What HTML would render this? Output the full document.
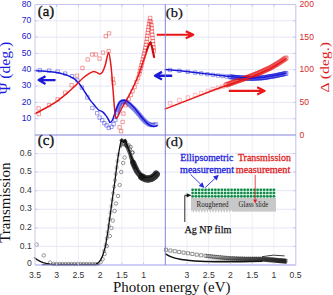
<!DOCTYPE html>
<html><head><meta charset="utf-8"><style>
html,body{margin:0;padding:0;background:#fff;width:333px;height:295px;overflow:hidden}
svg{display:block}
</style></head><body>
<svg width="333" height="295" viewBox="0 0 333 295">
<rect width="333" height="295" fill="#fff"/>
<path d="M56.7 4.5V265.0M187.0 4.5V265.0M78.4 4.5V265.0M208.7 4.5V265.0M100.2 4.5V265.0M230.5 4.5V265.0M121.9 4.5V265.0M252.2 4.5V265.0M143.6 4.5V265.0M273.9 4.5V265.0" stroke="#ededfa" stroke-width="1" fill="none"/>
<path d="M35.0 118.7H295.8M35.0 102.4H295.8M35.0 86.1H295.8M35.0 69.8H295.8M35.0 53.4H295.8M35.0 37.1H295.8M35.0 20.8H295.8M35.0 246.4H295.8M35.0 227.9H295.8M35.0 209.3H295.8M35.0 190.7H295.8M35.0 172.1H295.8M35.0 153.6H295.8" stroke="#e6e6f8" stroke-width="1" fill="none"/>
<g>
<path d="M35.0 70.6 C36.7 70.7 41.7 70.9 45.0 71.2 C48.3 71.5 52.2 71.9 55.0 72.3 C57.8 72.7 59.8 73.2 62.0 73.8 C64.2 74.3 66.2 74.9 68.0 75.6 C69.8 76.3 71.5 77.1 73.0 78.0 C74.5 78.9 75.7 79.9 77.0 81.2 C78.3 82.5 79.6 84.0 81.0 86.0 C82.4 88.0 83.9 90.6 85.5 93.0 C87.1 95.4 88.8 98.4 90.5 100.6 C92.2 102.8 94.1 104.8 95.4 106.4 C96.8 108.0 97.4 109.1 98.6 110.0 C99.8 110.9 101.4 110.9 102.6 111.8 C103.8 112.7 105.0 114.2 106.0 115.6 C107.0 116.9 107.9 118.7 108.6 119.9 C109.3 121.1 109.6 122.7 110.3 122.6 C111.0 122.5 111.8 121.5 112.8 119.2 C113.8 116.9 115.4 111.4 116.6 108.5 C117.8 105.6 118.7 103.1 120.0 101.8 C121.3 100.5 123.1 100.5 124.6 100.6 C126.1 100.7 127.4 101.5 129.0 102.6 C130.6 103.7 132.3 105.5 134.0 107.4 C135.7 109.3 137.4 111.8 139.0 113.8 C140.6 115.8 142.1 117.8 143.5 119.4 C144.9 121.0 146.2 122.5 147.5 123.6 C148.8 124.7 149.8 125.3 151.0 125.8 C152.2 126.3 153.5 126.4 154.5 126.4 C155.5 126.4 156.6 125.7 157.0 125.6" stroke="#1a1ad8" stroke-width="1.5" fill="none" stroke-linejoin="round" stroke-linecap="round" />
<path d="M35.0 113.6 C36.2 113.0 39.5 111.4 42.0 110.0 C44.5 108.6 47.7 106.9 50.3 105.4 C52.9 103.9 54.8 102.8 57.6 100.8 C60.4 98.8 63.9 95.8 66.9 93.3 C69.9 90.8 72.7 88.1 75.4 85.6 C78.1 83.0 80.7 80.0 83.0 78.0 C85.3 76.0 87.2 74.7 89.0 73.6 C90.8 72.5 92.2 71.6 93.5 71.4 C94.8 71.2 95.9 72.2 97.0 72.6 C98.1 73.0 99.1 74.1 100.0 74.0 C100.9 73.9 101.7 73.3 102.6 71.8 C103.5 70.3 104.3 68.2 105.3 65.0 C106.3 61.8 107.6 52.4 108.6 52.6 C109.5 52.8 110.2 59.4 111.0 66.0 C111.8 72.6 112.5 83.6 113.2 92.0 C113.9 100.4 114.6 112.3 115.4 116.4 C116.2 120.5 116.7 117.9 117.8 116.4 C118.9 114.9 120.5 110.3 122.0 107.6 C123.5 104.9 125.1 102.4 126.5 100.0 C127.9 97.6 129.0 95.6 130.3 93.0 C131.6 90.4 133.2 87.2 134.5 84.5 C135.8 81.8 137.0 78.9 138.0 76.5 C139.0 74.1 139.5 72.4 140.3 70.0 C141.1 67.6 142.1 64.5 143.0 62.0 C143.9 59.5 144.7 57.4 145.5 55.0 C146.3 52.6 147.2 49.6 148.0 47.5 C148.8 45.4 149.7 42.2 150.4 42.3 C151.2 42.4 151.8 45.5 152.5 48.0 C153.2 50.5 154.1 55.8 154.4 57.4" stroke="#e81818" stroke-width="1.5" fill="none" stroke-linejoin="round" stroke-linecap="round" />
</g>
<path d="M38.1 68.6h3.4v3.4h-3.4zM47.4 68.9h3.4v3.4h-3.4zM55.9 69.9h3.4v3.4h-3.4zM63.5 71.9h3.4v3.4h-3.4zM70.3 74.5h3.4v3.4h-3.4zM75.7 78.7h3.4v3.4h-3.4zM80.2 85.9h3.4v3.4h-3.4zM85.7 95.7h3.4v3.4h-3.4zM90.7 106.3h3.4v3.4h-3.4zM95.5 111.5h3.4v3.4h-3.4zM97.9 115.9h3.4v3.4h-3.4zM100.5 118.5h3.4v3.4h-3.4zM102.7 121.5h3.4v3.4h-3.4zM104.9 123.7h3.4v3.4h-3.4zM107.1 126.3h3.4v3.4h-3.4zM109.7 125.1h3.4v3.4h-3.4zM111.9 122.5h3.4v3.4h-3.4zM113.7 118.3h3.4v3.4h-3.4z" stroke="#1a1ad8" stroke-width="0.7" fill="none" opacity="0.6"/>
<path d="M114.8 111.3h3.4v3.4h-3.4zM115.1 110.4h3.4v3.4h-3.4zM115.4 109.6h3.4v3.4h-3.4zM115.7 108.7h3.4v3.4h-3.4zM115.9 107.9h3.4v3.4h-3.4zM116.2 107.0h3.4v3.4h-3.4zM116.5 106.2h3.4v3.4h-3.4zM116.8 105.3h3.4v3.4h-3.4zM117.2 104.5h3.4v3.4h-3.4zM117.6 103.7h3.4v3.4h-3.4zM118.0 102.9h3.4v3.4h-3.4zM118.4 102.1h3.4v3.4h-3.4zM118.8 101.3h3.4v3.4h-3.4zM119.5 100.8h3.4v3.4h-3.4zM120.3 100.2h3.4v3.4h-3.4zM121.0 99.7h3.4v3.4h-3.4zM121.8 99.6h3.4v3.4h-3.4zM122.7 99.7h3.4v3.4h-3.4zM123.6 99.9h3.4v3.4h-3.4zM124.4 100.3h3.4v3.4h-3.4zM125.1 100.8h3.4v3.4h-3.4zM125.8 101.4h3.4v3.4h-3.4zM126.5 101.9h3.4v3.4h-3.4zM127.2 102.5h3.4v3.4h-3.4zM127.9 103.1h3.4v3.4h-3.4zM128.6 103.7h3.4v3.4h-3.4zM129.3 104.3h3.4v3.4h-3.4zM129.9 104.9h3.4v3.4h-3.4zM130.6 105.5h3.4v3.4h-3.4zM131.2 106.1h3.4v3.4h-3.4zM131.9 106.7h3.4v3.4h-3.4zM132.5 107.4h3.4v3.4h-3.4zM133.2 108.0h3.4v3.4h-3.4zM133.8 108.7h3.4v3.4h-3.4zM134.4 109.3h3.4v3.4h-3.4zM135.0 110.0h3.4v3.4h-3.4zM135.6 110.7h3.4v3.4h-3.4zM136.2 111.3h3.4v3.4h-3.4zM136.7 112.0h3.4v3.4h-3.4zM137.3 112.7h3.4v3.4h-3.4zM137.9 113.4h3.4v3.4h-3.4zM138.4 114.1h3.4v3.4h-3.4zM139.0 114.8h3.4v3.4h-3.4zM139.6 115.5h3.4v3.4h-3.4zM140.1 116.2h3.4v3.4h-3.4zM140.7 116.9h3.4v3.4h-3.4zM141.3 117.6h3.4v3.4h-3.4zM141.9 118.2h3.4v3.4h-3.4zM142.6 118.9h3.4v3.4h-3.4zM143.2 119.6h3.4v3.4h-3.4zM143.8 120.1h3.4v3.4h-3.4zM144.6 120.7h3.4v3.4h-3.4zM145.3 121.3h3.4v3.4h-3.4zM146.0 121.8h3.4v3.4h-3.4zM146.7 122.3h3.4v3.4h-3.4zM147.6 122.6h3.4v3.4h-3.4zM148.4 122.9h3.4v3.4h-3.4zM149.2 123.3h3.4v3.4h-3.4zM150.1 123.3h3.4v3.4h-3.4zM151.0 123.2h3.4v3.4h-3.4zM151.9 123.2h3.4v3.4h-3.4zM152.8 123.1h3.4v3.4h-3.4zM153.7 122.9h3.4v3.4h-3.4zM154.5 122.6h3.4v3.4h-3.4z" stroke="#1a1ad8" stroke-width="0.6" fill="none" opacity="0.42"/>
<path d="M37.1 112.3h3.4v3.4h-3.4zM36.9 106.7h3.4v3.4h-3.4zM47.4 103.5h3.4v3.4h-3.4zM55.9 97.7h3.4v3.4h-3.4zM63.5 90.9h3.4v3.4h-3.4zM69.9 83.5h3.4v3.4h-3.4zM75.2 74.0h3.4v3.4h-3.4zM80.8 66.2h3.4v3.4h-3.4zM86.0 57.8h3.4v3.4h-3.4zM90.5 52.8h3.4v3.4h-3.4zM94.2 52.8h3.4v3.4h-3.4zM97.9 56.9h3.4v3.4h-3.4zM101.3 50.9h3.4v3.4h-3.4zM104.1 34.5h3.4v3.4h-3.4zM107.4 31.7h3.4v3.4h-3.4zM106.9 49.4h3.4v3.4h-3.4zM111.2 77.3h3.4v3.4h-3.4zM111.9 81.3h3.4v3.4h-3.4zM117.9 125.6h3.4v3.4h-3.4zM119.4 129.5h3.4v3.4h-3.4zM120.9 120.3h3.4v3.4h-3.4zM121.7 111.9h3.4v3.4h-3.4zM124.0 103.5h3.4v3.4h-3.4zM127.0 97.4h3.4v3.4h-3.4zM129.1 93.3h3.4v3.4h-3.4zM130.9 89.3h3.4v3.4h-3.4zM132.9 85.3h3.4v3.4h-3.4zM134.7 80.3h3.4v3.4h-3.4zM136.3 76.3h3.4v3.4h-3.4z" stroke="#e81818" stroke-width="0.7" fill="none" opacity="0.6"/>
<path d="M137.6 72.2h3.5v3.5h-3.5zM138.3 69.3h3.5v3.5h-3.5zM139.0 66.4h3.5v3.5h-3.5zM139.7 63.5h3.5v3.5h-3.5zM140.4 60.6h3.5v3.5h-3.5zM141.1 57.7h3.5v3.5h-3.5zM141.8 54.8h3.5v3.5h-3.5zM142.5 51.8h3.5v3.5h-3.5zM143.1 48.9h3.5v3.5h-3.5zM143.7 46.0h3.5v3.5h-3.5zM144.3 43.0h3.5v3.5h-3.5zM144.8 40.1h3.5v3.5h-3.5zM145.2 37.1h3.5v3.5h-3.5zM145.6 34.1h3.5v3.5h-3.5zM146.0 31.2h3.5v3.5h-3.5zM146.5 28.2h3.5v3.5h-3.5zM146.9 25.2h3.5v3.5h-3.5zM147.4 22.3h3.5v3.5h-3.5zM147.9 19.3h3.5v3.5h-3.5zM148.4 16.3h3.5v3.5h-3.5zM149.2 20.2h3.5v3.5h-3.5zM149.6 23.4h3.5v3.5h-3.5zM149.9 26.6h3.5v3.5h-3.5zM150.2 29.8h3.5v3.5h-3.5zM150.5 33.0h3.5v3.5h-3.5zM150.8 36.2h3.5v3.5h-3.5zM151.1 39.4h3.5v3.5h-3.5zM151.4 42.5h3.5v3.5h-3.5zM151.7 45.7h3.5v3.5h-3.5zM152.0 48.9h3.5v3.5h-3.5z" stroke="#e81818" stroke-width="0.75" fill="none" opacity="0.6"/>
<path d="M146.5 51.0 L148.5 45.5 L150.4 42.3 L152.3 48.5 L153.8 56.8" stroke="#c80c0c" stroke-width="1.8" fill="none" stroke-linejoin="round" stroke-linecap="round" />
<path d="M55.5 80.1L38.7 80.1M45.5 76.2L38.7 80.1L45.5 84.0" stroke="#1a1ad8" stroke-width="2.3" fill="none" stroke-linecap="butt" stroke-linejoin="round"/>
<path d="M172.2 75.7L155.0 75.7M162.0 71.9L155.0 75.7L162.0 79.5" stroke="#1a1ad8" stroke-width="2.4" fill="none" stroke-linecap="butt" stroke-linejoin="round"/>
<path d="M156.8 34.7L193.3 34.7M185.8 38.2L193.3 34.7L185.8 31.2" stroke="#e81818" stroke-width="2.1" fill="none" stroke-linecap="butt" stroke-linejoin="round"/>
<path d="M228.8 90.9L264.7 90.9M257.2 94.5L264.7 90.9L257.2 87.3" stroke="#e81818" stroke-width="2.1" fill="none" stroke-linecap="butt" stroke-linejoin="round"/>
<path d="M168.3 68.3h3.4v3.4h-3.4zM177.7 69.1h3.4v3.4h-3.4zM186.1 70.1h3.4v3.4h-3.4zM193.4 70.9h3.4v3.4h-3.4zM199.5 71.7h3.4v3.4h-3.4zM205.7 72.5h3.4v3.4h-3.4zM211.3 73.2h3.4v3.4h-3.4zM216.3 73.8h3.4v3.4h-3.4zM220.8 74.3h3.4v3.4h-3.4zM224.8 74.7h3.4v3.4h-3.4z" stroke="#1a1ad8" stroke-width="0.7" fill="none" opacity="0.6"/>
<path d="M228.1 74.9h3.8v3.8h-3.8zM229.1 75.0h3.8v3.8h-3.8zM230.1 75.1h3.8v3.8h-3.8zM231.1 75.2h3.8v3.8h-3.8zM232.1 75.3h3.8v3.8h-3.8zM233.1 75.4h3.8v3.8h-3.8zM234.1 75.5h3.8v3.8h-3.8zM235.1 75.6h3.8v3.8h-3.8zM236.1 75.7h3.8v3.8h-3.8zM237.1 75.8h3.8v3.8h-3.8zM238.1 75.9h3.8v3.8h-3.8zM239.1 75.9h3.8v3.8h-3.8zM240.1 76.0h3.8v3.8h-3.8zM241.1 76.0h3.8v3.8h-3.8zM242.1 76.1h3.8v3.8h-3.8zM243.1 76.1h3.8v3.8h-3.8zM244.1 76.2h3.8v3.8h-3.8zM245.1 76.2h3.8v3.8h-3.8zM246.1 76.3h3.8v3.8h-3.8zM247.1 76.3h3.8v3.8h-3.8zM248.1 76.4h3.8v3.8h-3.8zM249.1 76.4h3.8v3.8h-3.8zM250.1 76.5h3.8v3.8h-3.8zM251.1 76.4h3.8v3.8h-3.8zM252.1 76.4h3.8v3.8h-3.8zM253.1 76.3h3.8v3.8h-3.8zM254.1 76.3h3.8v3.8h-3.8zM255.1 76.2h3.8v3.8h-3.8zM256.1 76.2h3.8v3.8h-3.8zM257.1 76.1h3.8v3.8h-3.8zM258.1 76.1h3.8v3.8h-3.8zM259.1 76.0h3.8v3.8h-3.8zM260.1 76.0h3.8v3.8h-3.8zM261.1 75.9h3.8v3.8h-3.8zM262.1 75.7h3.8v3.8h-3.8zM263.1 75.6h3.8v3.8h-3.8zM264.1 75.4h3.8v3.8h-3.8zM265.1 75.2h3.8v3.8h-3.8zM266.1 75.1h3.8v3.8h-3.8zM267.1 74.9h3.8v3.8h-3.8zM268.1 74.7h3.8v3.8h-3.8zM269.1 74.6h3.8v3.8h-3.8zM270.1 74.4h3.8v3.8h-3.8zM271.1 74.2h3.8v3.8h-3.8zM272.1 74.1h3.8v3.8h-3.8zM273.1 73.9h3.8v3.8h-3.8zM274.1 73.7h3.8v3.8h-3.8zM275.1 73.5h3.8v3.8h-3.8zM276.1 73.2h3.8v3.8h-3.8zM277.1 73.0h3.8v3.8h-3.8zM278.1 72.8h3.8v3.8h-3.8zM279.1 72.6h3.8v3.8h-3.8zM280.1 72.4h3.8v3.8h-3.8zM281.1 72.2h3.8v3.8h-3.8zM282.1 71.9h3.8v3.8h-3.8zM283.1 71.7h3.8v3.8h-3.8zM284.1 71.5h3.8v3.8h-3.8z" stroke="#1a1ad8" stroke-width="0.8" fill="none" opacity="0.55"/>
<path d="M168.3 101.4h3.6v3.6h-3.6zM177.6 98.4h3.6v3.6h-3.6zM186.0 95.8h3.6v3.6h-3.6zM193.3 93.4h3.6v3.6h-3.6zM199.4 91.4h3.6v3.6h-3.6zM206.0 89.2h3.6v3.6h-3.6zM211.2 87.5h3.6v3.6h-3.6zM216.2 86.1h3.6v3.6h-3.6zM220.7 84.8h3.6v3.6h-3.6z" stroke="#e81818" stroke-width="0.7" fill="none" opacity="0.4"/>
<path d="M224.0 83.0h4.0v4.0h-4.0zM225.0 82.7h4.0v4.0h-4.0zM226.0 82.3h4.0v4.0h-4.0zM227.0 82.0h4.0v4.0h-4.0zM228.0 81.6h4.0v4.0h-4.0zM229.0 81.2h4.0v4.0h-4.0zM230.0 80.9h4.0v4.0h-4.0zM231.0 80.5h4.0v4.0h-4.0zM232.0 80.2h4.0v4.0h-4.0zM233.0 79.8h4.0v4.0h-4.0zM234.0 79.4h4.0v4.0h-4.0zM235.0 79.1h4.0v4.0h-4.0zM236.0 78.7h4.0v4.0h-4.0zM237.0 78.4h4.0v4.0h-4.0zM238.0 78.0h4.0v4.0h-4.0zM239.0 77.7h4.0v4.0h-4.0zM240.0 77.3h4.0v4.0h-4.0zM241.0 77.0h4.0v4.0h-4.0zM242.0 76.6h4.0v4.0h-4.0zM243.0 76.3h4.0v4.0h-4.0zM244.0 76.0h4.0v4.0h-4.0zM245.0 75.6h4.0v4.0h-4.0zM246.0 75.3h4.0v4.0h-4.0zM247.0 74.9h4.0v4.0h-4.0zM248.0 74.6h4.0v4.0h-4.0zM249.0 74.2h4.0v4.0h-4.0zM250.0 73.8h4.0v4.0h-4.0zM251.0 73.4h4.0v4.0h-4.0zM252.0 73.0h4.0v4.0h-4.0zM253.0 72.6h4.0v4.0h-4.0zM254.0 72.2h4.0v4.0h-4.0zM255.0 71.8h4.0v4.0h-4.0zM256.0 71.4h4.0v4.0h-4.0zM257.0 71.0h4.0v4.0h-4.0zM258.0 70.6h4.0v4.0h-4.0zM259.0 70.1h4.0v4.0h-4.0zM260.0 69.7h4.0v4.0h-4.0zM261.0 69.2h4.0v4.0h-4.0zM262.0 68.8h4.0v4.0h-4.0zM263.0 68.3h4.0v4.0h-4.0zM264.0 67.8h4.0v4.0h-4.0zM265.0 67.4h4.0v4.0h-4.0zM266.0 66.9h4.0v4.0h-4.0zM267.0 66.5h4.0v4.0h-4.0zM268.0 66.0h4.0v4.0h-4.0zM269.0 65.4h4.0v4.0h-4.0zM270.0 64.9h4.0v4.0h-4.0zM271.0 64.3h4.0v4.0h-4.0zM272.0 63.7h4.0v4.0h-4.0zM273.0 63.1h4.0v4.0h-4.0zM274.0 62.6h4.0v4.0h-4.0zM275.0 62.0h4.0v4.0h-4.0zM276.0 61.4h4.0v4.0h-4.0zM277.0 60.7h4.0v4.0h-4.0zM278.0 60.1h4.0v4.0h-4.0zM279.0 59.4h4.0v4.0h-4.0zM280.0 58.7h4.0v4.0h-4.0zM281.0 58.0h4.0v4.0h-4.0zM282.0 57.4h4.0v4.0h-4.0zM283.0 56.7h4.0v4.0h-4.0zM284.0 56.0h4.0v4.0h-4.0z" stroke="#e81818" stroke-width="0.85" fill="none" opacity="0.55"/>
<path d="M165.3 69.4 L180.0 70.7 L195.0 72.4 L210.0 74.3 L225.0 76.1 L240.0 77.6 L252.0 78.2 L263.0 77.6 L275.0 75.6 L286.0 73.2" stroke="#1a1ad8" stroke-width="1.5" fill="none" stroke-linejoin="round" stroke-linecap="round" />
<path d="M165.3 108.9 L190.0 99.4 L213.0 90.2 L230.0 84.2 L240.0 80.6 L250.0 77.2 L260.0 73.2 L270.0 68.6 L278.0 64.0 L286.0 58.6" stroke="#e81818" stroke-width="1.5" fill="none" stroke-linejoin="round" stroke-linecap="round" />
<g stroke="#555" stroke-width="0.75" fill="none" opacity="0.8"><circle cx="36.6" cy="244.6" r="1.75"/><circle cx="43.8" cy="255.4" r="1.75"/><circle cx="50.1" cy="262.6" r="1.75"/><circle cx="53.5" cy="264.0" r="1.75"/><circle cx="56.5" cy="264.0" r="1.75"/><circle cx="59.5" cy="264.0" r="1.75"/><circle cx="62.5" cy="264.0" r="1.75"/><circle cx="65.5" cy="264.0" r="1.75"/><circle cx="68.5" cy="264.0" r="1.75"/><circle cx="71.5" cy="264.0" r="1.75"/><circle cx="74.5" cy="264.0" r="1.75"/><circle cx="77.5" cy="264.0" r="1.75"/><circle cx="80.5" cy="264.0" r="1.75"/><circle cx="83.5" cy="264.0" r="1.75"/><circle cx="86.5" cy="264.0" r="1.75"/><circle cx="89.5" cy="264.0" r="1.75"/><circle cx="92.5" cy="264.0" r="1.75"/><circle cx="95.5" cy="264.0" r="1.75"/><circle cx="100.6" cy="262.2" r="1.75"/><circle cx="102.6" cy="259.2" r="1.75"/><circle cx="104.6" cy="254.0" r="1.75"/><circle cx="106.8" cy="246.0" r="1.75"/><circle cx="109.8" cy="236.0" r="1.75"/><circle cx="111.4" cy="228.0" r="1.75"/><circle cx="112.8" cy="220.5" r="1.75"/><circle cx="114.6" cy="211.0" r="1.75"/><circle cx="116.0" cy="203.5" r="1.75"/><circle cx="118.0" cy="196.0" r="1.75"/><circle cx="119.6" cy="185.0" r="1.75"/><circle cx="121.2" cy="172.0" r="1.75"/><circle cx="123.2" cy="163.0" r="1.75"/><circle cx="124.6" cy="157.5" r="1.75"/><circle cx="127.6" cy="146.0" r="1.75"/><circle cx="129.8" cy="149.0" r="1.75"/><circle cx="132.4" cy="152.5" r="1.75"/></g>
<path d="M124.5 141.5 L127.0 146.5 L129.0 151.5 L131.0 157.0 L133.0 162.5 L135.0 167.2" stroke="#222" stroke-width="3.6" fill="none" stroke-linejoin="round" stroke-linecap="round" opacity="0.72"/>
<path d="M133.0 162.5 L135.0 167.2 L137.0 171.2 L139.5 174.5 L142.0 177.0" stroke="#1a1a1a" stroke-width="6.0" fill="none" stroke-linejoin="round" stroke-linecap="round" opacity="0.8"/>
<path d="M142.0 177.0 L145.0 178.6 L148.0 179.0 L151.0 178.4 L153.5 177.0 L155.3 175.4 L156.2 174.2" stroke="#151515" stroke-width="7.4" fill="none" stroke-linejoin="round" stroke-linecap="round" opacity="0.85"/>
<g stroke="#111" stroke-width="0.8" fill="none" opacity="0.45"><circle cx="131.0" cy="157.0" r="1.8"/><circle cx="131.5" cy="158.4" r="1.8"/><circle cx="132.0" cy="159.8" r="1.8"/><circle cx="132.5" cy="161.2" r="1.8"/><circle cx="133.1" cy="162.6" r="1.8"/><circle cx="133.6" cy="164.0" r="1.8"/><circle cx="134.2" cy="165.4" r="1.8"/><circle cx="134.8" cy="166.8" r="1.8"/><circle cx="135.5" cy="168.1" r="1.8"/><circle cx="136.1" cy="169.5" r="1.8"/><circle cx="136.8" cy="170.8" r="1.8"/><circle cx="137.6" cy="172.1" r="1.8"/><circle cx="138.6" cy="173.2" r="1.8"/><circle cx="139.5" cy="174.4" r="1.8"/><circle cx="140.5" cy="175.5" r="1.8"/><circle cx="141.6" cy="176.6" r="1.8"/><circle cx="142.8" cy="177.4" r="1.8"/><circle cx="144.1" cy="178.1" r="1.8"/><circle cx="145.5" cy="178.7" r="1.8"/><circle cx="147.0" cy="178.9" r="1.8"/><circle cx="148.5" cy="178.9" r="1.8"/><circle cx="149.9" cy="178.6" r="1.8"/><circle cx="151.4" cy="178.2" r="1.8"/><circle cx="152.7" cy="177.5" r="1.8"/><circle cx="153.9" cy="176.6" r="1.8"/><circle cx="155.0" cy="175.6" r="1.8"/><circle cx="156.0" cy="174.5" r="1.8"/></g>
<g stroke="#333" stroke-width="0.7" fill="none" opacity="0.8"><circle cx="130.6" cy="147.0" r="1.7"/><circle cx="132.5" cy="152.5" r="1.7"/><circle cx="128.6" cy="145.2" r="1.7"/></g>
<path d="M120.3 141.3L121.8 139.6L123.4 141.6L125.2 140.2L126.6 142.8" stroke="#111" stroke-width="2.6" fill="none" stroke-linejoin="round" opacity="0.85"/>
<path d="M119.6 146.5L120.8 140.5L122.4 142.5L123.8 144.5L125.6 141.5L127.4 145L126.6 148.5L124.2 146.5L122.6 145.8L121.2 148z" fill="#1a1a1a" opacity="0.6"/>
<g stroke="#333" stroke-width="0.6" fill="none" opacity="0.6"><circle cx="104.1" cy="251.0" r="1.6"/><circle cx="105.7" cy="244.7" r="1.6"/><circle cx="106.8" cy="238.3" r="1.6"/><circle cx="107.8" cy="231.8" r="1.6"/><circle cx="108.7" cy="225.4" r="1.6"/><circle cx="109.6" cy="219.0" r="1.6"/><circle cx="110.5" cy="212.5" r="1.6"/><circle cx="111.4" cy="206.1" r="1.6"/><circle cx="112.3" cy="199.6" r="1.6"/><circle cx="113.2" cy="193.2" r="1.6"/><circle cx="114.1" cy="186.8" r="1.6"/><circle cx="115.0" cy="180.3" r="1.6"/><circle cx="115.8" cy="173.9" r="1.6"/><circle cx="116.6" cy="167.4" r="1.6"/><circle cx="117.5" cy="161.0" r="1.6"/><circle cx="118.4" cy="154.6" r="1.6"/></g>
<path d="M34.5 257.8 L37.0 259.6 L40.2 261.4 L43.0 262.6 L46.2 263.4 L50.0 264.1 L60.0 264.4 L90.0 264.4 L96.0 264.1 L98.6 262.6 L100.8 259.6 L102.8 255.4 L105.5 246.0 L108.1 230.0 L110.2 215.0 L112.2 200.0 L114.8 182.0 L116.8 166.0 L118.2 156.0 L119.5 148.5 L120.7 142.4 L121.7 140.3 L123.3 142.2 L125.0 140.8 L126.5 143.4 L128.0 148.0 L130.3 154.3 L132.0 158.6 L134.0 163.2 L136.0 167.8 L138.0 171.5 L140.5 174.5 L143.5 176.6 L146.5 177.4 L149.5 177.2 L152.5 175.8 L155.0 174.0 L156.3 172.8" stroke="#111" stroke-width="1.3" fill="none" stroke-linejoin="round" stroke-linecap="round" />
<path d="M42 264.6H100" stroke="#222" stroke-width="1.4" opacity="0.8"/>
<path d="M165.5 253.8 C166.2 254.2 168.4 255.7 170.0 256.4 C171.6 257.1 173.3 257.6 175.0 258.1 C176.7 258.6 177.5 258.8 180.0 259.2 C182.5 259.6 186.7 260.1 190.0 260.5 C193.3 260.9 195.8 261.1 200.0 261.3 C204.2 261.5 209.5 261.6 215.0 261.7 C220.5 261.8 227.2 261.7 233.0 261.7 C238.8 261.7 245.2 261.6 250.0 261.5 C254.8 261.4 260.0 261.3 262.0 261.3" stroke="#111" stroke-width="1.5" fill="none" stroke-linejoin="round" stroke-linecap="round" />
<defs><linearGradient id="gb" x1="205" x2="287" y1="0" y2="0" gradientUnits="userSpaceOnUse"><stop offset="0" stop-color="#1c1c1c" stop-opacity="0"/><stop offset="0.4" stop-color="#1c1c1c" stop-opacity="0.6"/><stop offset="0.75" stop-color="#1c1c1c" stop-opacity="0.85"/><stop offset="1" stop-color="#111" stop-opacity="0.95"/></linearGradient></defs>
<path d="M205 256.4 L228 257.3 L258 257.2 L272 257.8 L286.6 259 L286.6 263.7 L272 262.5 L258 261.3 L228 261.6 L205 261.6z" fill="url(#gb)"/>
<path d="M164.4 248.2h3.1v3.1h-3.1zM168.8 249.0h3.1v3.1h-3.1zM173.2 249.7h3.1v3.1h-3.1zM177.6 250.4h3.1v3.1h-3.1zM182.0 251.1h3.1v3.1h-3.1zM186.4 251.7h3.1v3.1h-3.1zM190.8 252.4h3.1v3.1h-3.1zM195.2 253.1h3.1v3.1h-3.1zM199.6 253.7h3.1v3.1h-3.1zM204.0 254.2h3.1v3.1h-3.1zM206.0 254.5h3.1v3.1h-3.1zM208.0 254.7h3.1v3.1h-3.1zM210.0 254.9h3.1v3.1h-3.1zM212.0 255.1h3.1v3.1h-3.1zM214.0 255.3h3.1v3.1h-3.1zM216.0 255.5h3.1v3.1h-3.1zM218.0 255.7h3.1v3.1h-3.1zM220.0 255.9h3.1v3.1h-3.1zM222.0 256.1h3.1v3.1h-3.1zM224.0 256.3h3.1v3.1h-3.1zM226.0 256.4h3.1v3.1h-3.1zM228.0 256.6h3.1v3.1h-3.1zM230.0 256.7h3.1v3.1h-3.1zM232.0 256.8h3.1v3.1h-3.1zM234.0 256.8h3.1v3.1h-3.1zM236.0 256.9h3.1v3.1h-3.1zM238.0 257.0h3.1v3.1h-3.1zM240.0 257.0h3.1v3.1h-3.1zM242.0 257.1h3.1v3.1h-3.1zM244.0 257.2h3.1v3.1h-3.1zM246.0 257.2h3.1v3.1h-3.1zM248.0 257.2h3.1v3.1h-3.1zM250.0 257.2h3.1v3.1h-3.1zM252.0 257.2h3.1v3.1h-3.1zM254.0 257.2h3.1v3.1h-3.1zM256.1 257.2h3.1v3.1h-3.1zM258.1 257.2h3.1v3.1h-3.1zM260.1 257.3h3.1v3.1h-3.1zM262.1 257.4h3.1v3.1h-3.1zM264.1 257.5h3.1v3.1h-3.1zM266.1 257.6h3.1v3.1h-3.1zM268.1 257.7h3.1v3.1h-3.1zM270.1 257.8h3.1v3.1h-3.1zM272.1 258.0h3.1v3.1h-3.1zM274.1 258.2h3.1v3.1h-3.1zM276.1 258.4h3.1v3.1h-3.1zM278.1 258.6h3.1v3.1h-3.1zM280.1 258.7h3.1v3.1h-3.1zM282.1 258.9h3.1v3.1h-3.1zM284.1 259.1h3.1v3.1h-3.1z" stroke="#2a2a2a" stroke-width="0.7" fill="none" opacity="0.7"/>
<path d="M262 256.7 Q273.5 254 284.5 255.9" stroke="#222" stroke-width="0.9" fill="none"/>
<g>
<rect x="191" y="197.4" width="85" height="14.2" fill="#c8c8c8"/>
<rect x="191" y="205" width="41" height="7.9" fill="#c8c8c8"/>
<path d="M190.6 213.1l1.4 -3.4l1.4 3.4zM193.4 213.1l1.4 -3.4l1.4 3.4zM196.2 213.1l1.4 -3.4l1.4 3.4zM199.0 213.1l1.4 -3.4l1.4 3.4zM201.8 213.1l1.4 -3.4l1.4 3.4zM204.6 213.1l1.4 -3.4l1.4 3.4zM207.4 213.1l1.4 -3.4l1.4 3.4zM210.2 213.1l1.4 -3.4l1.4 3.4zM213.0 213.1l1.4 -3.4l1.4 3.4zM215.8 213.1l1.4 -3.4l1.4 3.4zM218.6 213.1l1.4 -3.4l1.4 3.4zM221.4 213.1l1.4 -3.4l1.4 3.4zM224.2 213.1l1.4 -3.4l1.4 3.4zM227.0 213.1l1.4 -3.4l1.4 3.4zM229.8 213.1l1.4 -3.4l1.4 3.4z" fill="#fff"/>
<rect x="191.6" y="188.4" width="84.4" height="9.5" fill="#d4f6e2"/>
<g fill="#16864c"><circle cx="192.60" cy="189.80" r="1.35"/><circle cx="195.85" cy="189.80" r="1.35"/><circle cx="199.10" cy="189.80" r="1.35"/><circle cx="202.35" cy="189.80" r="1.35"/><circle cx="205.60" cy="189.80" r="1.35"/><circle cx="208.85" cy="189.80" r="1.35"/><circle cx="212.10" cy="189.80" r="1.35"/><circle cx="215.35" cy="189.80" r="1.35"/><circle cx="218.60" cy="189.80" r="1.35"/><circle cx="221.85" cy="189.80" r="1.35"/><circle cx="225.10" cy="189.80" r="1.35"/><circle cx="228.35" cy="189.80" r="1.35"/><circle cx="231.60" cy="189.80" r="1.35"/><circle cx="234.85" cy="189.80" r="1.35"/><circle cx="238.10" cy="189.80" r="1.35"/><circle cx="241.35" cy="189.80" r="1.35"/><circle cx="244.60" cy="189.80" r="1.35"/><circle cx="247.85" cy="189.80" r="1.35"/><circle cx="251.10" cy="189.80" r="1.35"/><circle cx="254.35" cy="189.80" r="1.35"/><circle cx="257.60" cy="189.80" r="1.35"/><circle cx="260.85" cy="189.80" r="1.35"/><circle cx="264.10" cy="189.80" r="1.35"/><circle cx="267.35" cy="189.80" r="1.35"/><circle cx="270.60" cy="189.80" r="1.35"/><circle cx="273.85" cy="189.80" r="1.35"/><circle cx="192.60" cy="193.00" r="1.35"/><circle cx="195.85" cy="193.00" r="1.35"/><circle cx="199.10" cy="193.00" r="1.35"/><circle cx="202.35" cy="193.00" r="1.35"/><circle cx="205.60" cy="193.00" r="1.35"/><circle cx="208.85" cy="193.00" r="1.35"/><circle cx="212.10" cy="193.00" r="1.35"/><circle cx="215.35" cy="193.00" r="1.35"/><circle cx="218.60" cy="193.00" r="1.35"/><circle cx="221.85" cy="193.00" r="1.35"/><circle cx="225.10" cy="193.00" r="1.35"/><circle cx="228.35" cy="193.00" r="1.35"/><circle cx="231.60" cy="193.00" r="1.35"/><circle cx="234.85" cy="193.00" r="1.35"/><circle cx="238.10" cy="193.00" r="1.35"/><circle cx="241.35" cy="193.00" r="1.35"/><circle cx="244.60" cy="193.00" r="1.35"/><circle cx="247.85" cy="193.00" r="1.35"/><circle cx="251.10" cy="193.00" r="1.35"/><circle cx="254.35" cy="193.00" r="1.35"/><circle cx="257.60" cy="193.00" r="1.35"/><circle cx="260.85" cy="193.00" r="1.35"/><circle cx="264.10" cy="193.00" r="1.35"/><circle cx="267.35" cy="193.00" r="1.35"/><circle cx="270.60" cy="193.00" r="1.35"/><circle cx="273.85" cy="193.00" r="1.35"/><circle cx="192.60" cy="196.30" r="1.35"/><circle cx="195.85" cy="196.30" r="1.35"/><circle cx="199.10" cy="196.30" r="1.35"/><circle cx="202.35" cy="196.30" r="1.35"/><circle cx="205.60" cy="196.30" r="1.35"/><circle cx="208.85" cy="196.30" r="1.35"/><circle cx="212.10" cy="196.30" r="1.35"/><circle cx="215.35" cy="196.30" r="1.35"/><circle cx="218.60" cy="196.30" r="1.35"/><circle cx="221.85" cy="196.30" r="1.35"/><circle cx="225.10" cy="196.30" r="1.35"/><circle cx="228.35" cy="196.30" r="1.35"/><circle cx="231.60" cy="196.30" r="1.35"/><circle cx="234.85" cy="196.30" r="1.35"/><circle cx="238.10" cy="196.30" r="1.35"/><circle cx="241.35" cy="196.30" r="1.35"/><circle cx="244.60" cy="196.30" r="1.35"/><circle cx="247.85" cy="196.30" r="1.35"/><circle cx="251.10" cy="196.30" r="1.35"/><circle cx="254.35" cy="196.30" r="1.35"/><circle cx="257.60" cy="196.30" r="1.35"/><circle cx="260.85" cy="196.30" r="1.35"/><circle cx="264.10" cy="196.30" r="1.35"/><circle cx="267.35" cy="196.30" r="1.35"/><circle cx="270.60" cy="196.30" r="1.35"/><circle cx="273.85" cy="196.30" r="1.35"/></g>
</g>
<text x="180.3" y="160.5" font-family='"Liberation Serif", serif' font-size="10.6" fill="#1c1ce0" text-anchor="start" font-weight="normal" textLength="53" lengthAdjust="spacingAndGlyphs" stroke="#1c1ce0" stroke-width="0.3">Ellipsometric</text>
<text x="180" y="172.6" font-family='"Liberation Serif", serif' font-size="10.6" fill="#1c1ce0" text-anchor="start" font-weight="normal" textLength="54" lengthAdjust="spacingAndGlyphs" stroke="#1c1ce0" stroke-width="0.3">measurement</text>
<text x="237.9" y="160.5" font-family='"Liberation Serif", serif' font-size="10.6" fill="#e01c1c" text-anchor="start" font-weight="normal" textLength="53" lengthAdjust="spacingAndGlyphs" stroke="#e01c1c" stroke-width="0.3">Transmission</text>
<text x="235.8" y="172.7" font-family='"Liberation Serif", serif' font-size="10.6" fill="#e01c1c" text-anchor="start" font-weight="normal" textLength="54.5" lengthAdjust="spacingAndGlyphs" stroke="#e01c1c" stroke-width="0.3">measurement</text>
<text x="196.6" y="206.9" font-family='"Liberation Serif", serif' font-size="8" fill="#262626" text-anchor="start" font-weight="normal" textLength="32" lengthAdjust="spacingAndGlyphs" >Roughened</text>
<text x="238.6" y="206.9" font-family='"Liberation Serif", serif' font-size="8" fill="#262626" text-anchor="start" font-weight="normal" textLength="29.8" lengthAdjust="spacingAndGlyphs" >Glass slide</text>
<text x="184.4" y="232.6" font-family='"Liberation Serif", serif' font-size="11.2" fill="#111" text-anchor="start" font-weight="normal" textLength="47" lengthAdjust="spacingAndGlyphs" stroke="#111" stroke-width="0.25">Ag NP film</text>
<path d="M190.4 174.2L200.6 184.2" stroke="#2828e0" stroke-width="0.9" fill="none"/>
<path d="M204.4 188.0L198.7 186.1L202.4 182.3z" fill="#2828e0"/>
<path d="M205.2 187.6L214.9 178.5" stroke="#2828e0" stroke-width="0.9" fill="none"/>
<path d="M218.8 174.8L216.7 180.5L213.0 176.5z" fill="#2828e0"/>
<path d="M255.2 174.8L255.2 199.4" stroke="#e02020" stroke-width="0.8" fill="none"/>
<path d="M255.2 203.6L253.2 199.4L257.2 199.4z" fill="#e02020"/>
<path d="M184.8 222V195.3H187" stroke="#111" stroke-width="0.9" fill="none"/>
<path d="M191.4 195.3L186.6 193.2L186.6 197.4z" fill="#111"/>
<path d="M35.0 4.5H295.8" stroke="#c4c4f0" stroke-width="1" fill="none"/>
<path d="M35.0 4.5V265.0" stroke="#d0d0f4" stroke-width="1.1" fill="none"/>
<path d="M295.8 4.5V265.0" stroke="#c4c4f0" stroke-width="1.1" fill="none"/>
<path d="M35.0 265.0H295.8" stroke="#9c9cec" stroke-width="1.1" fill="none"/>
<path d="M165.3 4.5V265.0M35.0 135.0H295.8" stroke="#8282d8" stroke-width="1" fill="none"/>
<path d="M35.0 118.7h2.5 M295.8 118.7h-2.5M35.0 102.4h2.5 M295.8 102.4h-2.5M35.0 86.1h2.5 M295.8 86.1h-2.5M35.0 69.8h2.5 M295.8 69.8h-2.5M35.0 53.4h2.5 M295.8 53.4h-2.5M35.0 37.1h2.5 M295.8 37.1h-2.5M35.0 20.8h2.5 M295.8 20.8h-2.5M35.0 246.4h2.5 M295.8 246.4h-2.5M35.0 227.9h2.5 M295.8 227.9h-2.5M35.0 209.3h2.5 M295.8 209.3h-2.5M35.0 190.7h2.5 M295.8 190.7h-2.5M35.0 172.1h2.5 M295.8 172.1h-2.5M35.0 153.6h2.5 M295.8 153.6h-2.5M56.7 265.0v-2.5 M56.7 4.5v2.5M187.0 265.0v-2.5 M187.0 4.5v2.5M78.4 265.0v-2.5 M78.4 4.5v2.5M208.7 265.0v-2.5 M208.7 4.5v2.5M100.2 265.0v-2.5 M100.2 4.5v2.5M230.5 265.0v-2.5 M230.5 4.5v2.5M121.9 265.0v-2.5 M121.9 4.5v2.5M252.2 265.0v-2.5 M252.2 4.5v2.5M143.6 265.0v-2.5 M143.6 4.5v2.5M273.9 265.0v-2.5 M273.9 4.5v2.5" stroke="#c4c4f0" stroke-width="1" fill="none"/>
<text x="31.3" y="120.8875" font-family='"Liberation Sans", sans-serif' font-size="8.6" fill="#2020c4" text-anchor="end" font-weight="normal" >10</text>
<text x="31.3" y="104.575" font-family='"Liberation Sans", sans-serif' font-size="8.6" fill="#2020c4" text-anchor="end" font-weight="normal" >20</text>
<text x="31.3" y="88.2625" font-family='"Liberation Sans", sans-serif' font-size="8.6" fill="#2020c4" text-anchor="end" font-weight="normal" >30</text>
<text x="31.3" y="71.95" font-family='"Liberation Sans", sans-serif' font-size="8.6" fill="#2020c4" text-anchor="end" font-weight="normal" >40</text>
<text x="31.3" y="55.6375" font-family='"Liberation Sans", sans-serif' font-size="8.6" fill="#2020c4" text-anchor="end" font-weight="normal" >50</text>
<text x="31.3" y="39.325" font-family='"Liberation Sans", sans-serif' font-size="8.6" fill="#2020c4" text-anchor="end" font-weight="normal" >60</text>
<text x="31.3" y="23.0125" font-family='"Liberation Sans", sans-serif' font-size="8.6" fill="#2020c4" text-anchor="end" font-weight="normal" >70</text>
<text x="31.3" y="6.7" font-family='"Liberation Sans", sans-serif' font-size="8.6" fill="#2020c4" text-anchor="end" font-weight="normal" >80</text>
<text x="299.6" y="137.6" font-family='"Liberation Sans", sans-serif' font-size="8.6" fill="#d42a2a" text-anchor="start" font-weight="normal" >0</text>
<text x="299.6" y="104.975" font-family='"Liberation Sans", sans-serif' font-size="8.6" fill="#d42a2a" text-anchor="start" font-weight="normal" >50</text>
<text x="299.6" y="72.35" font-family='"Liberation Sans", sans-serif' font-size="8.6" fill="#d42a2a" text-anchor="start" font-weight="normal" >100</text>
<text x="299.6" y="39.725" font-family='"Liberation Sans", sans-serif' font-size="8.6" fill="#d42a2a" text-anchor="start" font-weight="normal" >150</text>
<text x="299.6" y="7.1" font-family='"Liberation Sans", sans-serif' font-size="8.6" fill="#d42a2a" text-anchor="start" font-weight="normal" >200</text>
<text x="31.7" y="265.7" font-family='"Liberation Sans", sans-serif' font-size="8.6" fill="#333" text-anchor="end" font-weight="normal" >0</text>
<text x="31.7" y="248.6285714285714" font-family='"Liberation Sans", sans-serif' font-size="8.6" fill="#333" text-anchor="end" font-weight="normal" >0.1</text>
<text x="31.7" y="230.05714285714285" font-family='"Liberation Sans", sans-serif' font-size="8.6" fill="#333" text-anchor="end" font-weight="normal" >0.2</text>
<text x="31.7" y="211.48571428571427" font-family='"Liberation Sans", sans-serif' font-size="8.6" fill="#333" text-anchor="end" font-weight="normal" >0.3</text>
<text x="31.7" y="192.9142857142857" font-family='"Liberation Sans", sans-serif' font-size="8.6" fill="#333" text-anchor="end" font-weight="normal" >0.4</text>
<text x="31.7" y="174.34285714285713" font-family='"Liberation Sans", sans-serif' font-size="8.6" fill="#333" text-anchor="end" font-weight="normal" >0.5</text>
<text x="31.7" y="155.77142857142854" font-family='"Liberation Sans", sans-serif' font-size="8.6" fill="#333" text-anchor="end" font-weight="normal" >0.6</text>
<text x="35.0" y="278.3" font-family='"Liberation Sans", sans-serif' font-size="8.6" fill="#333" text-anchor="middle" font-weight="normal" >3.5</text>
<text x="56.7" y="278.3" font-family='"Liberation Sans", sans-serif' font-size="8.6" fill="#333" text-anchor="middle" font-weight="normal" >3</text>
<text x="78.4" y="278.3" font-family='"Liberation Sans", sans-serif' font-size="8.6" fill="#333" text-anchor="middle" font-weight="normal" >2.5</text>
<text x="100.2" y="278.3" font-family='"Liberation Sans", sans-serif' font-size="8.6" fill="#333" text-anchor="middle" font-weight="normal" >2</text>
<text x="121.9" y="278.3" font-family='"Liberation Sans", sans-serif' font-size="8.6" fill="#333" text-anchor="middle" font-weight="normal" >1.5</text>
<text x="143.6" y="278.3" font-family='"Liberation Sans", sans-serif' font-size="8.6" fill="#333" text-anchor="middle" font-weight="normal" >1</text>
<text x="187.0" y="278.3" font-family='"Liberation Sans", sans-serif' font-size="8.6" fill="#333" text-anchor="middle" font-weight="normal" >3</text>
<text x="208.7" y="278.3" font-family='"Liberation Sans", sans-serif' font-size="8.6" fill="#333" text-anchor="middle" font-weight="normal" >2.5</text>
<text x="230.5" y="278.3" font-family='"Liberation Sans", sans-serif' font-size="8.6" fill="#333" text-anchor="middle" font-weight="normal" >2</text>
<text x="252.2" y="278.3" font-family='"Liberation Sans", sans-serif' font-size="8.6" fill="#333" text-anchor="middle" font-weight="normal" >1.5</text>
<text x="273.9" y="278.3" font-family='"Liberation Sans", sans-serif' font-size="8.6" fill="#333" text-anchor="middle" font-weight="normal" >1</text>
<text x="295.6" y="278.3" font-family='"Liberation Sans", sans-serif' font-size="8.6" fill="#333" text-anchor="middle" font-weight="normal" >0.5</text>
<text x="37.8" y="16.4" font-family='"Liberation Serif", serif' font-size="14" fill="#111" text-anchor="start" font-weight="normal" textLength="16.4" lengthAdjust="spacingAndGlyphs" stroke="#111" stroke-width="0.35">(a)</text>
<text x="165.8" y="16.9" font-family='"Liberation Serif", serif' font-size="13.4" fill="#111" text-anchor="start" font-weight="normal" textLength="17" lengthAdjust="spacingAndGlyphs" stroke="#111" stroke-width="0.25">(b)</text>
<text x="37.8" y="145.3" font-family='"Liberation Serif", serif' font-size="14" fill="#111" text-anchor="start" font-weight="normal" textLength="16.4" lengthAdjust="spacingAndGlyphs" stroke="#111" stroke-width="0.35">(c)</text>
<text x="165.8" y="145.6" font-family='"Liberation Serif", serif' font-size="13.4" fill="#111" text-anchor="start" font-weight="normal" textLength="17" lengthAdjust="spacingAndGlyphs" stroke="#111" stroke-width="0.25">(d)</text>
<text x="113" y="291.8" font-family='"Liberation Serif", serif' font-size="15" fill="#111" text-anchor="start" font-weight="normal" textLength="117.5" lengthAdjust="spacingAndGlyphs" >Photon energy (eV)</text>
<text transform="translate(10.3 94.2) rotate(-90)" font-family='"Liberation Serif", serif' font-size="14.8" fill="#1c1ce0" textLength="52.4" lengthAdjust="spacingAndGlyphs">Ψ (deg.)</text>
<text transform="translate(10.4 242.8) rotate(-90)" font-family='"Liberation Serif", serif' font-size="14.5" fill="#111" textLength="80.2" lengthAdjust="spacingAndGlyphs">Transmission</text>
<text transform="translate(329.1 92.6) rotate(-90)" font-family='"Liberation Serif", serif' font-size="13" fill="#e01c1c" textLength="50.6" lengthAdjust="spacingAndGlyphs">Δ (deg.)</text>
</svg>
</body></html>
